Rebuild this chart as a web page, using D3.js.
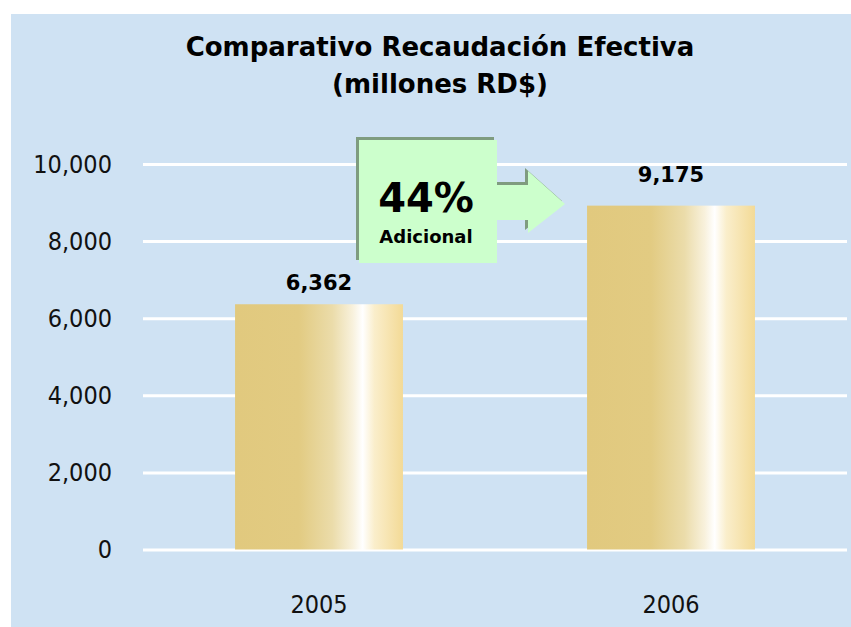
<!DOCTYPE html>
<html>
<head>
<meta charset="utf-8">
<script src="https://cdn.jsdelivr.net/npm/d3@7"></script>
<style>
  body { margin: 0; background: #fff; }
  .tick text { font-family: "DejaVu Sans Condensed", "DejaVu Sans", sans-serif; fill: #111; }
</style>
</head>
<body>
<div id="chart"></div>
<script>
// chart data
var years = ["2005", "2006"];
var barValues = [6362, 8920];     // bar heights as drawn
var labelValues = [6362, 9175];   // numbers printed above bars
var tickValues = [0, 2000, 4000, 6000, 8000, 10000];
var titleLines = ["Comparativo Recaudación Efectiva", "(millones RD$)"];
var calloutPct = "44%";
var calloutText = "Adicional";

var svgWidth = 851;
var svgHeight = 627;

var svg = d3.select("#chart")
  .append("svg")
  .attr("width", svgWidth)
  .attr("height", svgHeight);

// background panel
svg.append("rect")
  .attr("x", 11)
  .attr("y", 14)
  .attr("width", svgWidth - 11)
  .attr("height", svgHeight - 14)
  .attr("fill", "#cfe2f3");

// bar gradient
var defs = svg.append("defs");
var grad = defs.append("linearGradient")
  .attr("id", "barGrad")
  .attr("x1", "0%").attr("x2", "100%")
  .attr("y1", "0%").attr("y2", "0%");
[["0%", "#e1c97e"], ["38%", "#e2cb82"], ["58%", "#ebdcaa"], ["70%", "#f8f1dc"],
 ["76%", "#ffffff"], ["83%", "#faeecb"], ["100%", "#f3da96"]].forEach(function(s) {
  grad.append("stop").attr("offset", s[0]).attr("stop-color", s[1]);
});

// scales
var xScale = d3.scaleBand()
  .domain(years)
  .range([143, 847])
  .paddingInner(0.523)
  .paddingOuter(0.2615);

var yScale = d3.scaleLinear()
  .domain([0, 10000])
  .range([549.5, 164]);

// gridlines + y labels
var leftAxis = d3.axisLeft(yScale)
  .tickValues(tickValues)
  .tickFormat(d3.format(","))
  .tickSize(-(847 - 143))
  .tickPadding(31);

var yAxis = svg.append("g")
  .attr("transform", "translate(143,0)")
  .call(leftAxis);
yAxis.select(".domain").remove();
yAxis.selectAll(".tick line")
  .attr("stroke", "#fff")
  .attr("stroke-width", 3);
yAxis.selectAll(".tick text")
  .attr("font-size", 25);

// bars
svg.selectAll(".bar")
  .data(barValues)
  .enter()
  .append("rect")
  .attr("class", "bar")
  .attr("x", (d, i) => xScale(years[i]))
  .attr("y", d => yScale(d))
  .attr("width", xScale.bandwidth())
  .attr("height", d => yScale(0) - yScale(d))
  .attr("fill", "url(#barGrad)");

// x labels
var bottomAxis = d3.axisBottom(xScale).tickSize(0).tickPadding(46);
var xAxis = svg.append("g")
  .attr("transform", "translate(0," + yScale(0) + ")")
  .call(bottomAxis);
xAxis.select(".domain").remove();
xAxis.selectAll(".tick text")
  .attr("font-size", 25);

// value labels
svg.selectAll(".vlabel")
  .data(labelValues)
  .enter()
  .append("text")
  .attr("class", "vlabel")
  .attr("x", (d, i) => xScale(years[i]) + xScale.bandwidth() / 2)
  .attr("y", d => yScale(d) - 14)
  .attr("text-anchor", "middle")
  .attr("font-family", "DejaVu Sans, sans-serif")
  .attr("font-weight", "bold")
  .attr("font-size", 21)
  .attr("fill", "#000")
  .text(d => d3.format(",")(d));

// title
svg.selectAll(".title")
  .data(titleLines)
  .enter()
  .append("text")
  .attr("class", "title")
  .attr("x", 440)
  .attr("y", (d, i) => 56 + i * 37)
  .attr("text-anchor", "middle")
  .attr("font-family", "DejaVu Sans, sans-serif")
  .attr("font-weight", "bold")
  .attr("font-size", 26)
  .attr("fill", "#000")
  .text(d => d);

// callout box with arrow
var calloutPath = "M356,137 L494,137 L494,182 L525,182 L525,168 L562,201 L525,230 L525,217 L494,217 L494,260 L356,260 Z";
svg.append("path")
  .attr("d", calloutPath)
  .attr("fill", "#7f9c7f");
svg.append("path")
  .attr("d", calloutPath)
  .attr("transform", "translate(3,3)")
  .attr("fill", "#ccffcc");

svg.append("text")
  .attr("x", 426)
  .attr("y", 212)
  .attr("text-anchor", "middle")
  .attr("font-family", "DejaVu Sans, sans-serif")
  .attr("font-weight", "bold")
  .attr("font-size", 40)
  .attr("fill", "#000")
  .text(calloutPct);

svg.append("text")
  .attr("x", 426)
  .attr("y", 243)
  .attr("text-anchor", "middle")
  .attr("font-family", "DejaVu Sans, sans-serif")
  .attr("font-weight", "bold")
  .attr("font-size", 18)
  .attr("fill", "#000")
  .text(calloutText);
</script>
</body>
</html>
